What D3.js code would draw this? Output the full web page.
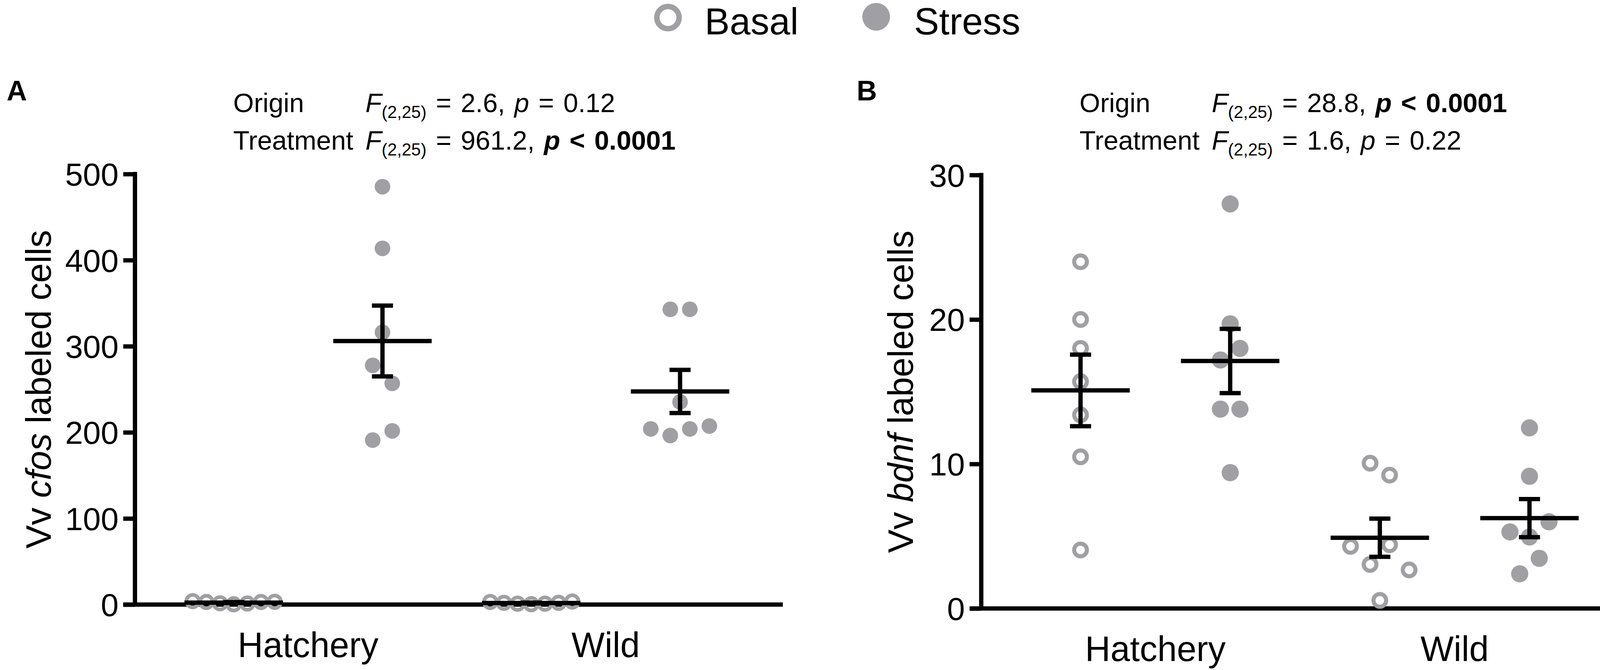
<!DOCTYPE html>
<html>
<head>
<meta charset="utf-8">
<script src="https://cdn.jsdelivr.net/npm/d3@7"></script>
<style>
  body { margin: 0; background: #fff; }
  svg { display: block; }
  text { font-family: "Liberation Sans", Arial, Helvetica, sans-serif; fill: #000; white-space: pre; }
</style>
</head>
<body>
<svg id="chart" width="4186" height="1715"></svg>
<script>
// ---------------- data ----------------
const origins = ["Hatchery", "Wild"];
const treatments = ["Basal", "Stress"];

// Panel A : Vv cfos labeled cells
const cfosHatcheryBasal  = [4.0, 3.0, 1.5, 0.3, 1.2, 3.0, 3.2];
const cfosHatcheryStress = [485.3, 413.7, 316.2, 277.8, 256.9, 191.0, 201.7];
const cfosWildBasal      = [3.0, 2.0, 1.0, 0.4, 1.0, 2.0, 3.5];
const cfosWildStress     = [342.9, 342.9, 235.3, 204.0, 196.3, 204.0, 207.3];
const cfosTicks = [0, 100, 200, 300, 400, 500];

// Panel B : Vv bdnf labeled cells
const bdnfHatcheryBasal  = [24.0, 20.0, 18.0, 15.7, 13.4, 10.5, 4.05];
const bdnfHatcheryStress = [28.0, 19.7, 17.2, 18.0, 13.8, 13.8, 9.4];
const bdnfWildBasal      = [10.06, 9.23, 4.30, 3.05, 4.41, 2.67, 0.56];
const bdnfWildStress     = [12.5, 9.15, 5.3, 4.95, 6.0, 2.4, 3.47];
const bdnfTicks = [0, 10, 20, 30];

// two-way ANOVA results
const statNames   = ["Origin", "Treatment"];
const cfosStatF   = [2.6, 961.2];
const cfosStatP   = ["= 0.12", "< 0.0001"];
const bdnfStatF   = [28.8, 1.6];
const bdnfStatP   = ["< 0.0001", "= 0.22"];

// ---------------- drawing ----------------
const svg = d3.select("#chart");
const GRAY = "#a0a0a4";
const LW = 11;          // line width of axes / error bars
const TICK = 30;

// legend
const legend = svg.append("g");
legend.append("circle").attr("cx", 1710).attr("cy", 45).attr("r", 28.5)
  .attr("fill", "none").attr("stroke", GRAY).attr("stroke-width", 14);
legend.append("text").attr("x", 1804).attr("y", 88).attr("font-size", 96).text(treatments[0]);
legend.append("circle").attr("cx", 2243).attr("cy", 43).attr("r", 35.5).attr("fill", GRAY);
legend.append("text").attr("x", 2340).attr("y", 88).attr("font-size", 96).text(treatments[1]);

const panels = [
  {
    letter: "A", gene: "cfos", ticks: cfosTicks,
    groups: [cfosHatcheryBasal, cfosHatcheryStress, cfosWildBasal, cfosWildStress],
    statF: cfosStatF, statP: cfosStatP,
    x0: 345.5, x1: 2004, yBottom: 1547.5, yTop: 445.5,
    labelOffset: 215.5, letterX: 17, rFill: 20, rOpen: 16, openW: 9.5
  },
  {
    letter: "B", gene: "bdnf", ticks: bdnfTicks,
    groups: [bdnfHatcheryBasal, bdnfHatcheryStress, bdnfWildBasal, bdnfWildStress],
    statF: bdnfStatF, statP: bdnfStatP,
    x0: 2512, x1: 4180, yBottom: 1557.5, yTop: 448,
    labelOffset: 175, letterX: 2193, rFill: 22, rOpen: 16.25, openW: 10.5
  }
];

const keys = [];
origins.forEach(o => treatments.forEach(t => keys.push(o + "|" + t)));

// column-scatter layout: values close in y share a row and are spread sideways
function scatterOffsets(values, y) {
  const T = 52, S = 50, MAXW = 210;
  const order = d3.range(values.length).sort((a, b) => values[b] - values[a]);
  const rows = [];
  let prev = null;
  order.forEach(i => {
    const py = y(values[i]);
    if (prev === null || Math.abs(py - prev) >= T) rows.push([i]);
    else rows[rows.length - 1].push(i);
    prev = py;
  });
  const off = new Array(values.length).fill(0);
  rows.forEach(r => {
    r.sort((a, b) => a - b);
    const n = r.length;
    const s = n > 1 ? Math.min(S, MAXW / (n - 1)) : 0;
    r.forEach((idx, k) => { off[idx] = (k - (n - 1) / 2) * s; });
  });
  return off;
}

panels.forEach(P => {
  const g = svg.append("g");
  const yMax = d3.max(P.ticks);
  const y = d3.scaleLinear().domain([0, yMax]).range([P.yBottom, P.yTop]);
  const x = d3.scalePoint().domain(keys).range([P.x0, P.x1]).padding(0.677).align(0.49);

  // y axis
  const yAxis = d3.axisLeft(y).tickValues(P.ticks).tickSize(TICK).tickSizeOuter(0)
    .tickPadding(12).tickFormat(d3.format("d"));
  const ya = g.append("g").attr("transform", `translate(${P.x0},0)`).call(yAxis);
  ya.select(".domain").attr("stroke", "#000").attr("stroke-width", LW).attr("stroke-linecap", "square")
    .attr("d", `M0,${y(yMax)}V${y(0)}`);
  ya.selectAll(".tick line").attr("stroke", "#000").attr("stroke-width", LW);
  ya.selectAll(".tick text").attr("font-size", 82).attr("font-family", null)
    .attr("fill", "#000").attr("dy", "0.355em");

  // x axis
  g.append("line").attr("x1", P.x0 - TICK).attr("x2", P.x1)
    .attr("y1", y(0)).attr("y2", y(0)).attr("stroke", "#000").attr("stroke-width", LW);

  // category labels
  origins.forEach(o => {
    const cx = (x(o + "|Basal") + x(o + "|Stress")) / 2;
    g.append("text").attr("x", cx).attr("y", y(0) + 134).attr("text-anchor", "middle")
      .attr("font-size", 90).text(o);
  });

  // y label
  const yl = g.append("text")
    .attr("transform", `translate(${P.x0 - P.labelOffset},${(y(0) + y(yMax)) / 2}) rotate(-90)`)
    .attr("text-anchor", "middle").attr("font-size", 90);
  yl.append("tspan").text("Vv ");
  yl.append("tspan").attr("font-style", "italic").text(P.gene);
  yl.append("tspan").text(" labeled cells");

  // panel letter
  g.append("text").attr("x", P.letterX).attr("y", 257).attr("font-size", 72)
    .attr("font-weight", "bold").text(P.letter);

  // stats text
  [0, 1].forEach(i => {
    const by = [286.7, 383.3][i];
    g.append("text").attr("x", P.x0 + 251.5).attr("y", by).attr("font-size", 68).text(statNames[i]);
    const t = g.append("text").attr("x", P.x0 + 590).attr("y", by).attr("font-size", 68)
      .style("word-spacing", "5px");
    t.append("tspan").attr("font-style", "italic").text("F");
    t.append("tspan").attr("font-size", 44).attr("dy", 15).text("(2,25)");
    t.append("tspan").attr("dy", -15).text(` = ${P.statF[i]}, `);
    const bold = P.statP[i].startsWith("<");
    t.append("tspan").attr("font-style", "italic").attr("font-weight", bold ? "bold" : null).text("p");
    t.append("tspan").attr("font-weight", bold ? "bold" : null).text(" " + P.statP[i]);
  });

  // points
  keys.forEach((k, gi) => {
    const vals = P.groups[gi];
    const isBasal = k.endsWith("Basal");
    const offs = scatterOffsets(vals, y);
    g.append("g").selectAll("circle").data(vals).join("circle")
      .attr("cx", (d, i) => x(k) + offs[i])
      .attr("cy", d => y(d))
      .attr("r", isBasal ? P.rOpen : P.rFill)
      .attr("fill", isBasal ? "none" : GRAY)
      .attr("stroke", isBasal ? GRAY : "none")
      .attr("stroke-width", isBasal ? P.openW : 0);
  });

  // mean +/- SEM
  keys.forEach((k, gi) => {
    const vals = P.groups[gi];
    const m = d3.mean(vals);
    const sem = d3.deviation(vals) / Math.sqrt(vals.length);
    const cx = x(k);
    const eg = g.append("g").attr("stroke", "#000").attr("stroke-width", LW);
    eg.append("line").attr("x1", cx - 126).attr("x2", cx + 126).attr("y1", y(m)).attr("y2", y(m));
    eg.append("line").attr("x1", cx).attr("x2", cx).attr("y1", y(m + sem)).attr("y2", y(m - sem));
    eg.append("line").attr("x1", cx - 27).attr("x2", cx + 27).attr("y1", y(m + sem)).attr("y2", y(m + sem));
    eg.append("line").attr("x1", cx - 27).attr("x2", cx + 27).attr("y1", y(m - sem)).attr("y2", y(m - sem));
  });
});
</script>
</body>
</html>
